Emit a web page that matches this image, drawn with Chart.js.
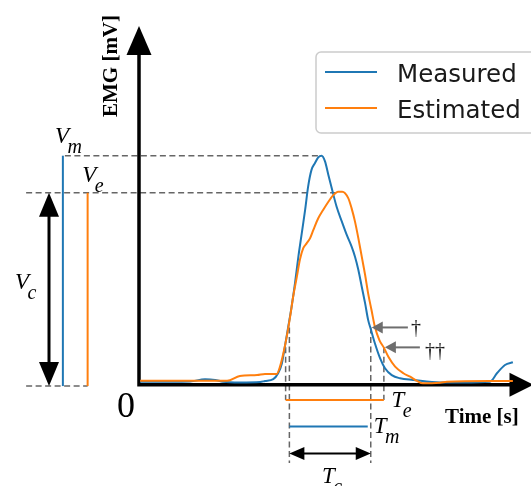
<!DOCTYPE html>
<html><head><meta charset="utf-8">
<script src="https://cdn.jsdelivr.net/npm/chart.js@4"></script>
<style>html,body{margin:0;padding:0;background:#fff;}canvas{display:block;}</style>
</head><body>
<canvas id="c" width="531" height="486"></canvas>
<script>
// ---- data ----
const seriesNames = ['Measured', 'Estimated'];
const axisTitles = ['Time [s]', 'EMG [mV]'];
const originLabel = '0';

const measuredTime = [0.03,0.83,1.36,1.76,2.03,2.24,2.69,3.23,3.36,3.58,3.71,3.81,3.89,3.98,4.07,4.16,4.25,4.34,4.43,4.51,4.60,4.69,4.78,4.87,4.96,5.05,5.14,5.27,5.41,5.54,5.67,5.76,5.85,5.94,6.03,6.11,6.18,6.29,6.43,6.56,6.74,6.96,7.31,8.03,8.64,9.36,9.55,9.76,9.97];
const measuredEMG  = [0.013,0.013,0.014,0.024,0.021,0.013,0.010,0.012,0.016,0.024,0.050,0.093,0.166,0.253,0.341,0.443,0.559,0.661,0.763,0.865,0.938,0.967,0.993,1.000,0.975,0.916,0.858,0.777,0.712,0.654,0.603,0.559,0.501,0.428,0.355,0.283,0.243,0.181,0.115,0.072,0.042,0.028,0.021,0.010,0.010,0.013,0.051,0.086,0.098];

const estimatedTime = [0.03,2.35,2.69,3.15,3.36,3.67,3.76,3.85,3.94,4.03,4.11,4.21,4.29,4.38,4.47,4.56,4.65,4.78,4.91,5.05,5.18,5.31,5.42,5.58,5.67,5.76,5.85,5.94,6.03,6.11,6.20,6.29,6.41,6.53,6.65,6.83,7.05,7.23,7.41,7.57,8.03,8.21,9.36,9.97];
const estimatedEMG  = [0.017,0.017,0.038,0.042,0.047,0.047,0.079,0.137,0.210,0.297,0.384,0.472,0.545,0.596,0.617,0.639,0.676,0.727,0.763,0.799,0.828,0.843,0.843,0.815,0.770,0.712,0.639,0.559,0.479,0.399,0.326,0.253,0.195,0.162,0.122,0.079,0.050,0.035,0.017,0.006,0.009,0.013,0.016,0.016];

const peakValues = [1.0, 0.838];        // V_m, V_e
const peakTimes = [4.87, 5.28];         // where the peak guides end
const thresholds = [0.25, 0.163];       // measured, estimated
const measuredSpan = [4.01, 6.18];      // T_m
const estimatedSpan = [3.91, 6.53];     // T_e
const daggerLabels = ['\u2020', '\u2020\u2020'];

// ---- layout of schematic guides (data units) ----
const guide = {
  yAxisTop: 1.566, xAxisEnd: 10.52,
  vmLineT: -2.03, veLineT: -1.37, vcArrowT: -2.4, dashStartT: -3.01,
  baseV: -0.006, teLevel: -0.067, tmLevel: -0.183, tcLevel: -0.30, dashBottom: -0.342,
  daggerTail: [7.17, 7.49]
};

const BLUE = '#1f77b4', ORANGE = '#ff7f0e';
const SERIF = '"Liberation Serif", "DejaVu Serif", serif';

function head(ctx, x1, y1, x2, y2, len, half) {
  const a = Math.atan2(y2 - y1, x2 - x1), c = Math.cos(a), s = Math.sin(a);
  ctx.beginPath();
  ctx.moveTo(x2, y2);
  ctx.lineTo(x2 - len * c + half * s, y2 - len * s - half * c);
  ctx.lineTo(x2 - len * c - half * s, y2 - len * s + half * c);
  ctx.closePath();
  ctx.fill();
}
function arrow(ctx, x1, y1, x2, y2, len, half, both) {
  const d = Math.hypot(x2 - x1, y2 - y1), ux = (x2 - x1) / d, uy = (y2 - y1) / d;
  ctx.beginPath();
  ctx.moveTo(both ? x1 + ux * (len - 2) : x1, both ? y1 + uy * (len - 2) : y1);
  ctx.lineTo(x2 - ux * (len - 2), y2 - uy * (len - 2));
  ctx.stroke();
  head(ctx, x1, y1, x2, y2, len, half);
  if (both) head(ctx, x2, y2, x1, y1, len, half);
}
function line(ctx, x1, y1, x2, y2) { ctx.beginPath(); ctx.moveTo(x1, y1); ctx.lineTo(x2, y2); ctx.stroke(); }
function mathLabel(ctx, base, sub, x, y) {
  ctx.fillStyle = '#000';
  ctx.textAlign = 'left'; ctx.textBaseline = 'alphabetic';
  ctx.font = 'italic 23px ' + SERIF;
  ctx.fillText(base, x, y);
  const w = ctx.measureText(base).width;
  ctx.font = 'italic 20px ' + SERIF;
  ctx.fillText(sub, x + w - 1.5, y + 10);
}

const axesPlugin = {
  id: 'axesPlugin',
  beforeDatasetsDraw(chart) {
    const ctx = chart.ctx, X = chart.scales.x, Y = chart.scales.y;
    const px = v => X.getPixelForValue(v), py = v => Y.getPixelForValue(v);
    ctx.save();
    // dashed guides
    ctx.strokeStyle = 'rgba(85,85,85,0.9)'; ctx.lineWidth = 1.5; ctx.setLineDash([6, 3.5]);
    line(ctx, px(guide.vmLineT) + 2, py(peakValues[0]), px(peakTimes[0]), py(peakValues[0]));
    line(ctx, px(guide.dashStartT), py(peakValues[1]), px(peakTimes[1]), py(peakValues[1]));
    line(ctx, px(guide.dashStartT), py(guide.baseV), px(guide.veLineT), py(guide.baseV));
    measuredSpan.forEach(t => line(ctx, px(t), py(thresholds[0]), px(t), py(guide.dashBottom)));
    estimatedSpan.forEach(t => line(ctx, px(t), py(thresholds[1]), px(t), py(guide.teLevel)));
    ctx.setLineDash([]);
    // main axes with arrows
    const ox = px(0), oy = py(0), top = py(guide.yAxisTop), right = px(guide.xAxisEnd);
    ctx.strokeStyle = '#000'; ctx.fillStyle = '#000'; ctx.lineWidth = 3.5; ctx.lineJoin = 'miter'; ctx.lineCap = 'butt';
    ctx.beginPath();
    ctx.moveTo(ox, top + 27); ctx.lineTo(ox, oy); ctx.lineTo(right - 22, oy);
    ctx.stroke();
    head(ctx, ox, oy, ox, top, 29, 12.5);
    head(ctx, ox, oy, right, oy, 24, 12);
    ctx.restore();
  },
  afterDatasetsDraw(chart) {
    const ctx = chart.ctx, X = chart.scales.x, Y = chart.scales.y;
    const px = v => X.getPixelForValue(v), py = v => Y.getPixelForValue(v);
    ctx.save();
    // V_m / V_e bars
    ctx.lineWidth = 2;
    ctx.strokeStyle = BLUE; line(ctx, px(guide.vmLineT), py(peakValues[0]), px(guide.vmLineT), py(guide.baseV));
    ctx.strokeStyle = ORANGE; line(ctx, px(guide.veLineT), py(peakValues[1]), px(guide.veLineT), py(guide.baseV));
    // V_c double arrow
    ctx.strokeStyle = '#000'; ctx.fillStyle = '#000'; ctx.lineWidth = 3;
    arrow(ctx, px(guide.vcArrowT), py(peakValues[1]), px(guide.vcArrowT), py(guide.baseV), 24, 10, true);
    // T_e / T_m bars
    ctx.lineWidth = 2;
    ctx.strokeStyle = ORANGE; line(ctx, px(estimatedSpan[0]), py(guide.teLevel), px(estimatedSpan[1]), py(guide.teLevel));
    ctx.strokeStyle = BLUE; line(ctx, px(measuredSpan[0]), py(guide.tmLevel), px(measuredSpan[1]) - 3, py(guide.tmLevel));
    // T_c double arrow
    ctx.strokeStyle = '#000'; ctx.fillStyle = '#000'; ctx.lineWidth = 2;
    arrow(ctx, px(measuredSpan[0]), py(guide.tcLevel), px(measuredSpan[1]), py(guide.tcLevel), 15, 6.5, true);
    // dagger arrows
    ctx.strokeStyle = '#6e6e6e'; ctx.fillStyle = '#6e6e6e'; ctx.lineWidth = 2;
    const tips = [[measuredSpan[1], thresholds[0]], [estimatedSpan[1], thresholds[1]]];
    tips.forEach((tp, i) => {
      const y = py(tp[1]);
      arrow(ctx, px(guide.daggerTail[i]), y, px(tp[0]) + 1, y, 11, 6, false);
      ctx.fillStyle = '#1a1a1a'; ctx.font = '20px ' + SERIF; ctx.textAlign = 'left'; ctx.textBaseline = 'alphabetic';
      ctx.fillText(daggerLabels[i], px(guide.daggerTail[i]) + 3 + i * 2, y + 7 + i * 3);
      ctx.fillStyle = '#6e6e6e';
    });
    // math labels
    mathLabel(ctx, 'V', 'm', px(guide.vmLineT) - 8, py(peakValues[0]) - 13);
    mathLabel(ctx, 'V', 'e', px(guide.veLineT) - 5.5, py(peakValues[1]) - 11);
    mathLabel(ctx, 'V', 'c', px(guide.vcArrowT) - 34, (py(peakValues[1]) + py(guide.baseV)) / 2);
    mathLabel(ctx, 'T', 'e', px(estimatedSpan[1]) + 7.5, py(guide.teLevel) + 7);
    mathLabel(ctx, 'T', 'm', px(measuredSpan[1]) + 3, py(guide.tmLevel) + 6);
    mathLabel(ctx, 'T', 'c', (px(measuredSpan[0]) + px(measuredSpan[1])) / 2 - 8, py(guide.tcLevel) + 30);
    // origin and axis titles
    const ox = px(0), oy = py(0);
    ctx.fillStyle = '#000';
    ctx.font = '36px ' + SERIF; ctx.textAlign = 'center';
    ctx.fillText(originLabel, ox - 13, oy + 32);
    ctx.font = 'bold 21px ' + SERIF; ctx.textAlign = 'left';
    ctx.fillText(axisTitles[0], 445, 423);
    ctx.save();
    ctx.translate(117, 66); ctx.rotate(-Math.PI / 2); ctx.textAlign = 'center';
    ctx.fillText(axisTitles[1], 0, 0);
    ctx.restore();
    // legend
    ctx.beginPath();
    ctx.roundRect(316, 52, 230, 81, 5);
    ctx.fillStyle = 'rgba(255,255,255,0.8)'; ctx.fill();
    ctx.strokeStyle = '#cccccc'; ctx.lineWidth = 1.5; ctx.stroke();
    const cols = [BLUE, ORANGE];
    seriesNames.forEach((n, i) => {
      const y = 72 + i * 36;
      ctx.strokeStyle = cols[i]; ctx.lineWidth = 2; line(ctx, 325, y, 377, y);
      ctx.fillStyle = '#1a1a1a'; ctx.font = '24.5px "DejaVu Sans", sans-serif';
      ctx.textAlign = 'left'; ctx.textBaseline = 'alphabetic';
      ctx.fillText(n, 397, y + 10);
    });
    ctx.restore();
  }
};

const toPts = (ts, vs) => ts.map((t, i) => ({ x: t, y: vs[i] }));

new Chart(document.getElementById('c'), {
  type: 'line',
  data: {
    datasets: [
      { label: seriesNames[0], data: toPts(measuredTime, measuredEMG), borderColor: BLUE, borderWidth: 2,
        pointRadius: 0, cubicInterpolationMode: 'monotone', clip: false, order: 1 },
      { label: seriesNames[1], data: toPts(estimatedTime, estimatedEMG), borderColor: ORANGE, borderWidth: 2,
        pointRadius: 0, cubicInterpolationMode: 'monotone', clip: false, order: 0 }
    ]
  },
  options: {
    responsive: false, animation: false, devicePixelRatio: 1, events: [],
    layout: { padding: { left: 139, right: 17, top: 155.7, bottom: 101.3 } },
    scales: {
      x: { type: 'linear', min: 0, max: 10, display: false },
      y: { type: 'linear', min: 0, max: 1, display: false }
    },
    plugins: { legend: { display: false }, tooltip: { enabled: false } }
  },
  plugins: [axesPlugin]
});
</script>
</body></html>
